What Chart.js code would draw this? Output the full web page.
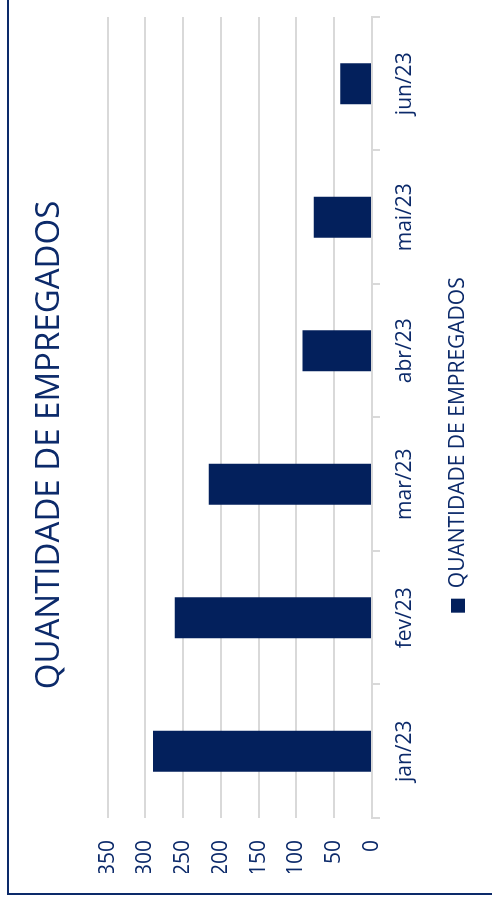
<!DOCTYPE html>
<html>
<head>
<meta charset="utf-8">
<script src="https://cdn.jsdelivr.net/npm/chart.js@4"></script>
<style>
  html, body { margin: 0; padding: 0; background: #ffffff; overflow: hidden; width: 492px; height: 906px; }
  #rot { position: absolute; left: 0; top: 0; width: 906px; height: 492px;
         transform-origin: 0 0; transform: translate(0px, 906px) rotate(-90deg); background: #fff; }
  #frame { position: absolute; left: 11px; top: 7px; width: 1000px; height: 1000px;
           border: 2px solid #0c2a6a; box-sizing: border-box; }
  canvas { position: absolute; left: 0; top: 0; }
</style>
</head>
<body>
<div id="rot">
  <div id="frame"></div>
  <canvas id="c" width="906" height="492"></canvas>
</div>
<script>
const categories = ["jan/23", "fev/23", "mar/23", "abr/23", "mai/23", "jun/23"];
const empregados = [290, 261, 216, 92, 77, 42];
const seriesName = "QUANTIDADE DE EMPREGADOS";
const chartTitle = "QUANTIDADE DE EMPREGADOS";

const navy = "#03205c";
const textNavy = "#0c2a6a";
const grid = "#d9d9d9";
const fontFamily = "'Open Sans', sans-serif";

new Chart(document.getElementById("c"), {
  type: "bar",
  data: {
    labels: categories,
    datasets: [{
      label: seriesName,
      data: empregados,
      backgroundColor: navy,
      borderWidth: 0,
      categoryPercentage: 1,
      barPercentage: 0.307
    }]
  },
  options: {
    responsive: false,
    animation: false,
    layout: { padding: { left: 33, right: 17, top: 8, bottom: 13.5 } },
    plugins: {
      title: {
        display: true,
        text: chartTitle,
        color: textNavy,
        font: { family: fontFamily, size: 33, weight: "normal", lineHeight: 1.2 },
        padding: { top: 22, bottom: 38 }
      },
      legend: {
        position: "bottom",
        labels: {
          color: textNavy,
          font: { family: fontFamily, size: 21 },
          boxWidth: 14,
          boxHeight: 14,
          padding: 10
        }
      },
      tooltip: { enabled: false }
    },
    scales: {
      x: {
        grid: { display: true, drawOnChartArea: false, drawTicks: true, tickLength: 8, color: grid, lineWidth: 2, offset: true },
        border: { display: true, color: grid, width: 2 },
        ticks: { color: textNavy, font: { family: fontFamily, size: 21 }, padding: 12, maxRotation: 0 },
        afterFit: (s) => { s.height = 65.5; }
      },
      y: {
        min: 0, max: 350,
        ticks: { stepSize: 50, color: textNavy, font: { family: fontFamily, size: 21 }, padding: 22 },
        grid: { color: grid, lineWidth: 2, drawTicks: false },
        border: { display: false },
        afterFit: (s) => { s.width = 55; }
      }
    }
  }
});
</script>
</body>
</html>
